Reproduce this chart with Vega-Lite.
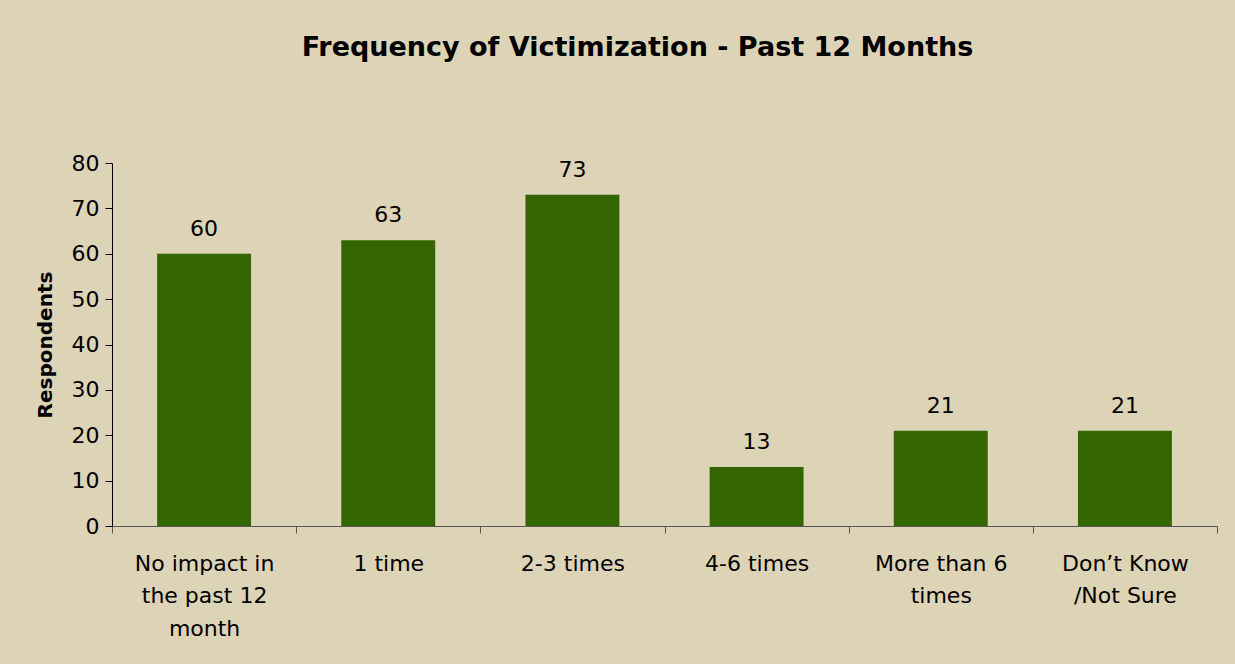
{
  "$schema": "https://vega.github.io/schema/vega-lite/v6.json",
  "autosize": {"type": "none"},
  "width": 1105,
  "height": 363,
  "padding": {"left": 112, "top": 163, "right": 18, "bottom": 138},
  "background": "#DDD3B6",
  "title": {
    "text": "Frequency of Victimization - Past 12 Months",
    "font": "DejaVu Sans",
    "fontSize": 27,
    "fontWeight": "bold",
    "color": "#000000",
    "anchor": "middle",
    "dx": -27,
    "offset": 90
  },
  "data": {
    "values": [
      {"category": "No impact in the past 12 month", "respondents": 60},
      {"category": "1 time", "respondents": 63},
      {"category": "2-3 times", "respondents": 73},
      {"category": "4-6 times", "respondents": 13},
      {"category": "More than 6 times", "respondents": 21},
      {"category": "Don’t Know /Not Sure", "respondents": 21}
    ]
  },
  "encoding": {
    "x": {
      "field": "category",
      "type": "nominal",
      "sort": null,
      "scale": {"paddingInner": 0, "paddingOuter": 0},
      "axis": {
        "title": null,
        "labelAngle": 0,
        "labelFont": "DejaVu Sans",
        "labelFontSize": 22,
        "labelColor": "#000000",
        "labelPadding": 20,
        "labelLineHeight": 32.5,
        "labelExpr": "datum.value == 'No impact in the past 12 month' ? ['No impact in', 'the past 12', 'month'] : datum.value == 'More than 6 times' ? ['More than 6', 'times'] : datum.value == 'Don’t Know /Not Sure' ? ['Don’t Know', '/Not Sure'] : datum.value",
        "tickBand": "extent",
        "tickSize": 7,
        "tickColor": "#555555",
        "domainColor": "#555555",
        "labelBaseline": "top"
      }
    },
    "y": {
      "field": "respondents",
      "type": "quantitative",
      "scale": {"domain": [0, 80]},
      "axis": {
        "title": "Respondents",
        "titleFont": "DejaVu Sans",
        "titleFontSize": 20,
        "titleFontWeight": "bold",
        "titleColor": "#000000",
        "titlePadding": 16,
        "values": [0, 10, 20, 30, 40, 50, 60, 70, 80],
        "labelFont": "DejaVu Sans",
        "labelFontSize": 22,
        "labelColor": "#000000",
        "labelPadding": 6,
        "tickSize": 7,
        "tickColor": "#000000",
        "domainColor": "#000000",
        "grid": false
      }
    }
  },
  "layer": [
    {"mark": {"type": "bar", "color": "#336600", "width": {"band": 0.51}}},
    {
      "mark": {"type": "text", "dy": -25, "font": "DejaVu Sans", "fontSize": 22, "color": "#000000"},
      "encoding": {"text": {"field": "respondents", "type": "quantitative"}}
    }
  ],
  "config": {"view": {"stroke": null}}
}
